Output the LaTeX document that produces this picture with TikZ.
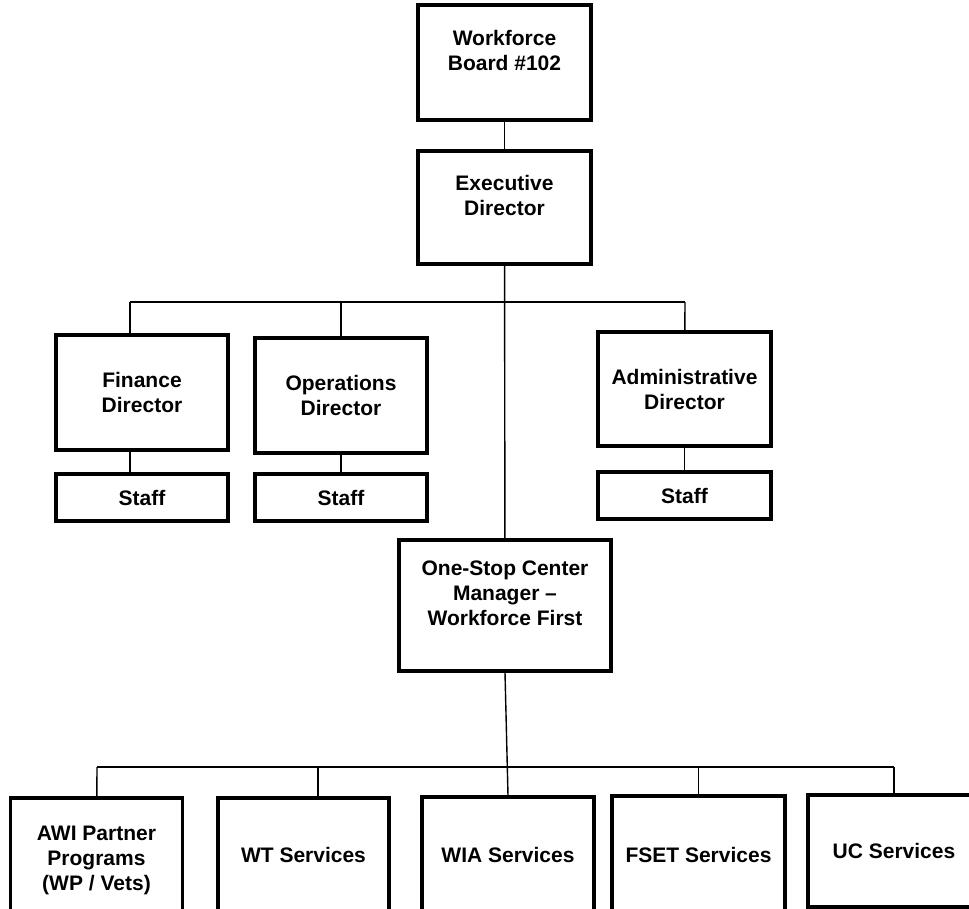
\documentclass[tikz,border=0pt]{standalone}
\usepackage{fontspec}
\setmainfont{Liberation Sans}

\begin{document}
\begin{tikzpicture}[x=1pt, y=-1pt,
  box/.style={draw, line width=3.3pt, minimum width=172pt, minimum height=115pt,
    align=center, inner sep=0pt, font=\bfseries\fontsize{21}{25}\selectfont},
  staffbox/.style={box, minimum height=47pt},
  link/.style={line width=1.4pt}]
\useasboundingbox (0,0) rectangle (969,909);

% Board and director
\node[box, minimum width=173pt] (board) at (504.5,62.5) {Workforce\\Board \#102\\\mbox{}};
\node[box, minimum width=173pt, minimum height=113pt] (exec) at (504.5,207.5) {Executive\\Director\\\mbox{}};

% Directors
\node[box] (fin) at (142,392.5) {Finance\\Director};
\node[box] (ops) at (341,395.5) {Operations\\Director};
\node[box, minimum width=173pt, minimum height=114pt] (admin) at (684.5,389) {Administrative\\Director};

% Staff
\node[staffbox] (finstaff) at (142,497.5) {Staff};
\node[staffbox] (opsstaff) at (341,497.5) {Staff};
\node[staffbox, minimum width=173pt] (adminstaff) at (684.5,495.5) {Staff};

% One-Stop Center
\node[box, minimum width=212pt, minimum height=131pt] (onestop) at (505,605.5) {One-Stop Center\\Manager --\\Workforce First\\\mbox{}};

% Services
\node[box, minimum height=124pt] (awi) at (96.5,860) {AWI Partner\\Programs\\(WP / Vets)};
\node[box, minimum width=171pt, minimum height=114pt] (wt) at (303.5,855) {WT Services};
\node[box, minimum height=116pt] (wia) at (508,855) {WIA Services};
\node[box, minimum width=173pt, minimum height=118pt] (fset) at (698.5,855) {FSET Services};
\node[box, minimum height=112pt] (uc) at (894,851) {UC Services};

% Connectors
\coordinate (busL) at (130,302);
\coordinate (busR) at (685,302);
\coordinate (lowL) at (97,767);
\coordinate (lowR) at (894,767);
\coordinate (wtx) at (318,767);

\draw[link] (board) -- (exec);
\draw[link] (exec) -- (onestop);
\draw[link] (busL) -- (busR);
\draw[link] (busL) -- (busL |- fin.north);
\draw[link] (ops.north |- busL) -- (ops);
\draw[link] (busR) -- (admin);
\draw[link] (fin.south -| busL) -- (finstaff.north -| busL);
\draw[link] (ops) -- (opsstaff);
\draw[link] (admin) -- (adminstaff);

\draw[link] (onestop.south) -- (wia.north);
\draw[link] (lowL) -- (lowR);
\draw[link] (lowL) -- (awi);
\draw[link] (wtx) -- (wtx |- wt.north);
\draw[link] (fset.north |- lowL) -- (fset);
\draw[link] (lowR) -- (uc);

\end{tikzpicture}
\end{document}
